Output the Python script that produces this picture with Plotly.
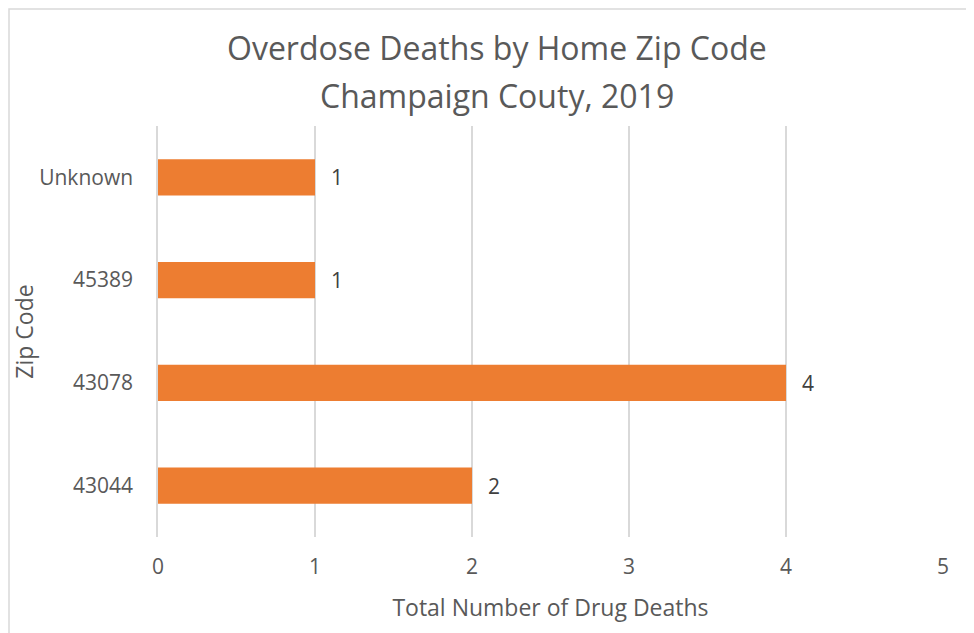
import plotly.graph_objects as go

zip_codes = ["43044", "43078", "45389", "Unknown"]
deaths = [2, 4, 1, 1]
x_ticks = [0, 1, 2, 3, 4, 5]
title_lines = ["Overdose Deaths by Home Zip Code", "Champaign Couty, 2019"]

FONT = "Open Sans"
TXT = "#595959"
GRID = "#d9d9d9"
BAR = "#ED7D31"

# page body has an 8px margin, so figure coordinates = screen - 8
W, H = 966, 625
L, R, T, B = 150, 31, 118, 96
pw, ph = W - L - R, H - T - B

fig = go.Figure(go.Bar(
    y=zip_codes, x=deaths, orientation="h",
    marker=dict(color=BAR, line=dict(width=0)),
    cliponaxis=False, hoverinfo="x+y",
))

annotations = [dict(
    x=v, y=i, xref="x", yref="y", text=str(v), showarrow=False,
    xanchor="center", yanchor="middle", xshift=22,
    font=dict(family=FONT, size=21, color="#404040"),
) for i, v in enumerate(deaths)]

for line, ycen in zip(title_lines, [39.5, 87.5]):
    annotations.append(dict(
        text=line, xref="paper", yref="paper",
        x=(489 - L) / pw, y=1 + (T - ycen) / ph, xanchor="center", yanchor="middle",
        showarrow=False, font=dict(family=FONT, size=32, color=TXT),
    ))

fig.update_layout(
    width=W, height=H,
    margin=dict(l=L, r=R, t=T, b=B, pad=0, autoexpand=False),
    paper_bgcolor="white", plot_bgcolor="white",
    bargap=0.645,
    showlegend=False,
    font=dict(family=FONT, color=TXT),
    xaxis=dict(
        range=[0, 5], tickvals=x_ticks, showgrid=True, gridcolor=GRID, gridwidth=1.5,
        zeroline=False, showline=False, ticks="", automargin=False,
        tickfont=dict(family=FONT, size=21, color=TXT),
        ticklabelstandoff=15,
        title=dict(text="Total Number of Drug Deaths", standoff=20,
                   font=dict(family=FONT, size=23, color=TXT)),
        fixedrange=True,
    ),
    yaxis=dict(
        type="category", categoryorder="array", categoryarray=zip_codes,
        range=[-0.5, len(zip_codes) - 0.5],
        showgrid=False, zeroline=False, showline=True, linecolor=GRID, linewidth=1.5,
        ticks="", ticklabelstandoff=19, automargin=False,
        tickfont=dict(family=FONT, size=21, color=TXT),
        title=dict(text="Zip Code", standoff=24,
                   font=dict(family=FONT, size=23, color=TXT)),
        fixedrange=True,
    ),
    annotations=annotations,
    shapes=[dict(
        type="rect", xref="paper", yref="paper",
        x0=(1 - L) / pw, x1=(W + 20 - L) / pw,
        y0=-(B + 20) / ph, y1=1 + (T - 1) / ph,
        line=dict(color=GRID, width=1.5), fillcolor="rgba(0,0,0,0)", layer="below",
    )],
)

fig.write_html("out.html")
